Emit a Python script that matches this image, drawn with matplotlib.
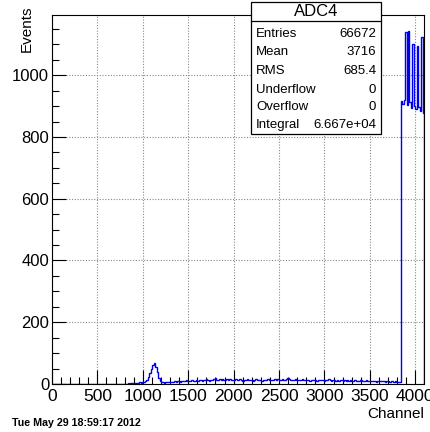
import matplotlib
matplotlib.use('Agg')
import matplotlib.pyplot as plt
import numpy as np
from matplotlib.patches import Rectangle
from matplotlib.lines import Line2D
from matplotlib.ticker import MultipleLocator

plt.rcParams['font.family'] = ['Liberation Sans', 'DejaVu Sans']

# ADC4 spectrum, 16-channel bins over 0..4096
bin_width = 16
empty_low = [0] * 50                      # 0 - 800
rise_peak = [1, 0, 2, 1, 2, 3, 2, 3, 4, 3, 5, 4, 6, 8, 10, 14, 22, 35, 48, 60,
             68, 55, 38, 20, 10, 6]       # 800 - 1216
bg_a = [5, 4, 6, 5, 7, 6, 8, 7, 9, 8, 10, 9, 8, 11, 10, 9, 12, 10, 11, 9, 12, 11,
        10, 12]
bg_b = [11, 13, 12, 10, 14, 12, 15, 13, 11, 14, 13, 16, 19, 14, 12, 15, 13, 17,
        14, 12, 15, 13, 16, 14, 12]
bg_c = [13, 15, 12, 14, 16, 13, 11, 14, 12, 15, 13, 12, 14, 11, 13, 15, 12, 14,
        13, 11, 12, 14, 13, 15, 12]
bg_d = [14, 12, 13, 15, 13, 16, 14, 12, 15, 13, 14, 17, 19, 15, 13, 14, 12, 15,
        13, 14, 12, 13, 15, 12, 13]
bg_e = [12, 14, 11, 13, 12, 14, 13, 11, 12, 14, 12, 13, 11, 12, 13, 15, 12, 11,
        13, 12, 10, 12, 11, 13, 12]
bg_f = [11, 12, 10, 12, 11, 13, 10, 11, 12, 10, 11, 9, 12, 10, 11, 10, 12, 9, 11,
        10, 9, 11, 10, 8, 10, 9, 11, 9, 10, 8, 9, 10, 8, 9, 10, 8, 9, 8, 7, 8]
plateau = [915, 908, 920, 1141, 905, 1144, 912, 895, 1102, 900, 890, 1096, 898,
           885, 1125, 878]               # 3840 - 4096

counts = np.array(empty_low + rise_peak + bg_a + bg_b + bg_c + bg_d + bg_e + bg_f
                  + plateau, dtype=float)
edges = np.arange(len(counts) + 1) * bin_width

stats_labels = ['Entries', 'Mean', 'RMS', 'Underflow', 'Overflow', 'Integral']
stats_values = ['66672', '3716', '685.4', '0', '0', '6.667e+04']

W, H = 430, 432
fig = plt.figure(figsize=(W / 100, H / 100), dpi=100)
ax = fig.add_axes([52 / W, 1 - 384 / H, 372 / W, 369 / H])

ax.stairs(counts, edges, color='#0000ee', linewidth=1.0)

ax.set_xlim(0, 4096)
ax.set_ylim(0, 1195)
ax.xaxis.set_major_locator(MultipleLocator(500))
ax.xaxis.set_minor_locator(MultipleLocator(100))
ax.yaxis.set_major_locator(MultipleLocator(200))
ax.yaxis.set_minor_locator(MultipleLocator(50))
ax.tick_params(which='both', direction='in', top=False, right=False, width=0.8)
ax.tick_params(which='major', length=10)
ax.tick_params(which='minor', length=5)
ax.tick_params(axis='x', pad=3.5, labelsize=12.5)
ax.tick_params(axis='y', pad=2, labelsize=12)
ax.grid(True, which='major', color='#888888', linestyle=(0, (1, 1.5)),
        linewidth=0.8)
ax.set_axisbelow(True)
for s in ax.spines.values():
    s.set_linewidth(0.8)

fig.text(27 / W, 1 - 6 / H, 'Events', rotation=90, ha='center', va='top',
         fontsize=11)
fig.text(424 / W, 1 - 414 / H, 'Channel', ha='right', va='center', fontsize=11)
fig.text(12 / W, 1 - 423 / H, 'Tue May 29 18:59:17 2012', ha='left',
         va='center', fontsize=7.7, fontweight='bold')

# stats box
bx0, bx1, by0, by1 = 251, 381, 2, 134
fig.patches.append(Rectangle((bx0 / W, 1 - by1 / H), (bx1 - bx0) / W,
                             (by1 - by0) / H, transform=fig.transFigure,
                             facecolor='white', edgecolor='black',
                             linewidth=0.9, zorder=5))
fig.lines.append(Line2D([bx0 / W, bx1 / W], [1 - 21 / H, 1 - 21 / H],
                        transform=fig.transFigure, color='black',
                        linewidth=0.9, zorder=6))
fig.text((bx0 + bx1) / 2 / W, 1 - 11.5 / H, 'ADC4', ha='center', va='center',
         fontsize=12, zorder=7)
rows_y = [34, 52, 71, 90, 107, 125]
for lab, val, yy in zip(stats_labels, stats_values, rows_y):
    fig.text(256 / W, 1 - yy / H, lab, ha='left', va='center', fontsize=9.5,
             zorder=7)
    fig.text(376 / W, 1 - yy / H, val, ha='right', va='center', fontsize=9.5,
             zorder=7)

fig.savefig('out.png', dpi=100)
